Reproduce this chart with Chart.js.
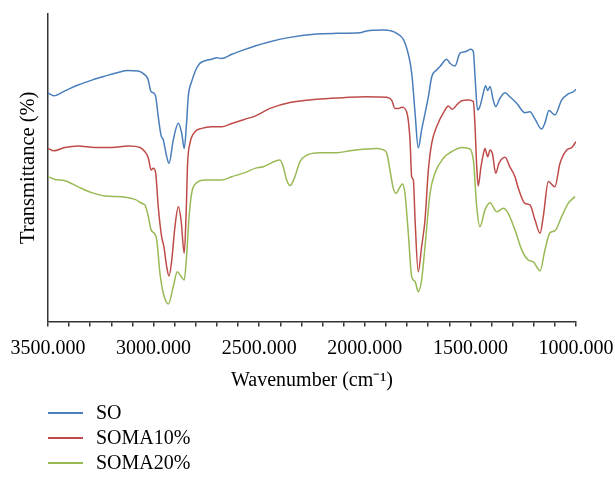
<!DOCTYPE html>
<html>
<head>
<meta charset="utf-8">
<script src="https://cdn.jsdelivr.net/npm/chart.js@4/dist/chart.umd.min.js"></script>
<style>
  body { margin: 0; background: #fff; }
  #wrap { position: relative; width: 615px; height: 479px; }
  #legend { position: absolute; left: 48px; top: 400px; font-family: "Liberation Serif", serif; font-size: 20px; color: #000; }
  .row { display: flex; align-items: center; height: 25px; }
  .swatch { width: 35px; height: 2px; margin-right: 13px; }
</style>
</head>
<body>
<div id="wrap">
  <canvas id="ftir" width="615" height="479"></canvas>
  <div id="legend"></div>
</div>
<script>
// series names and colours
const seriesNames = ['SO', 'SOMA10%', 'SOMA20%'];
const seriesColors = ['#4A7EBB', '#BE4B48', '#98B954'];

// x tick labels (cm-1)
const tickLabels = [3500, 3000, 2500, 2000, 1500, 1000];

// SO
const soWavenumber = [3500, 3472, 3420, 3358, 3292, 3230, 3169, 3121, 3074, 3041, 3027, 3012, 3001, 2990, 2978, 2965, 2954, 2938, 2927, 2907, 2883, 2867, 2855, 2843, 2836, 2820, 2788, 2757, 2725, 2701, 2678, 2630, 2567, 2520, 2449, 2354, 2228, 2133, 2023, 1991, 1912, 1881, 1849, 1810, 1778, 1762, 1747, 1731, 1699, 1683, 1660, 1644, 1612, 1597, 1573, 1549, 1526, 1497, 1486, 1478, 1466, 1455, 1439, 1428, 1418, 1407, 1392, 1380, 1360, 1336, 1313, 1281, 1242, 1218, 1194, 1163, 1147, 1128, 1100, 1068, 1037, 1013, 1000];
const soTransmittance = [74.3, 73.4, 75.0, 76.9, 78.5, 79.8, 81.0, 81.6, 81.5, 80.2, 78.9, 74.7, 74.4, 73.1, 66.6, 60.6, 59.0, 53.6, 51.4, 59.0, 64.5, 61.3, 56.3, 65.5, 73.1, 78.0, 83.4, 84.8, 85.3, 85.8, 85.5, 86.9, 88.5, 89.6, 91.0, 92.4, 93.5, 93.7, 93.9, 94.5, 94.8, 94.6, 93.7, 90.6, 80.8, 67.8, 56.4, 62.3, 73.1, 79.6, 81.8, 82.9, 85.3, 84.0, 83.1, 87.3, 87.7, 88.5, 87.7, 79.6, 68.8, 69.9, 74.2, 76.7, 75.1, 76.4, 72.0, 69.9, 72.6, 74.4, 73.1, 71.0, 67.9, 68.2, 65.8, 62.6, 64.6, 68.6, 67.2, 72.0, 74.0, 74.7, 75.5];

// SOMA10%
const soma10Wavenumber = [3500, 3472, 3420, 3357, 3278, 3198, 3120, 3064, 3041, 3025, 3012, 3001, 2990, 2978, 2962, 2951, 2938, 2927, 2914, 2899, 2883, 2870, 2855, 2845, 2839, 2828, 2804, 2772, 2725, 2678, 2630, 2567, 2520, 2449, 2354, 2228, 2102, 1991, 1896, 1873, 1857, 1841, 1825, 1802, 1786, 1778, 1770, 1762, 1747, 1731, 1715, 1699, 1683, 1660, 1620, 1605, 1586, 1565, 1541, 1510, 1486, 1478, 1470, 1463, 1450, 1434, 1431, 1418, 1407, 1396, 1380, 1365, 1336, 1313, 1289, 1273, 1242, 1218, 1194, 1170, 1155, 1131, 1100, 1076, 1044, 1020, 1000];
const soma10Transmittance = [56.3, 55.5, 56.6, 57.1, 56.6, 56.6, 57.1, 56.6, 55.2, 53.2, 49.3, 49.8, 48.2, 37.3, 27.6, 24.3, 17.8, 14.8, 20.0, 30.8, 37.3, 33.0, 22.2, 37.3, 51.4, 57.9, 61.7, 62.8, 63.3, 63.3, 64.4, 65.8, 66.8, 69.3, 71.2, 72.3, 72.8, 73.1, 72.9, 72.0, 69.3, 69.3, 69.7, 68.2, 59.1, 47.1, 46.0, 33.0, 16.2, 24.3, 33.0, 49.3, 58.0, 63.3, 68.8, 70.1, 69.0, 70.4, 71.8, 72.0, 71.5, 63.3, 50.3, 44.1, 50.3, 55.8, 56.3, 53.6, 55.8, 54.7, 48.2, 51.4, 53.4, 50.3, 47.1, 43.3, 38.4, 37.9, 33.0, 28.7, 34.1, 45.5, 43.8, 51.4, 55.8, 56.6, 58.5];

// SOMA20%
const soma20Wavenumber = [3500, 3467, 3420, 3357, 3293, 3230, 3151, 3088, 3049, 3041, 3025, 3012, 2997, 2985, 2970, 2954, 2930, 2907, 2888, 2870, 2855, 2843, 2832, 2820, 2796, 2757, 2678, 2630, 2567, 2520, 2481, 2402, 2386, 2370, 2354, 2331, 2307, 2275, 2212, 2133, 2070, 2007, 1944, 1912, 1896, 1881, 1865, 1852, 1833, 1822, 1810, 1794, 1778, 1762, 1747, 1731, 1715, 1691, 1668, 1628, 1589, 1541, 1510, 1486, 1470, 1455, 1431, 1407, 1376, 1344, 1321, 1289, 1257, 1226, 1202, 1170, 1147, 1123, 1100, 1068, 1037, 1005];
const soma20Transmittance = [47.1, 46.2, 45.8, 43.8, 41.9, 40.8, 40.6, 39.7, 38.2, 37.9, 34.1, 29.8, 28.7, 26.5, 15.7, 9.2, 5.7, 11.3, 16.2, 14.6, 13.5, 22.2, 34.1, 41.7, 45.1, 46.0, 46.0, 47.1, 48.4, 49.8, 50.3, 52.5, 50.3, 46.0, 44.2, 47.1, 52.0, 54.1, 54.9, 54.9, 55.5, 56.0, 56.3, 55.8, 54.7, 49.3, 43.3, 41.7, 43.8, 44.7, 41.7, 28.7, 14.6, 13.0, 9.7, 13.5, 24.3, 41.7, 48.2, 53.1, 55.2, 56.6, 56.3, 52.5, 37.3, 30.8, 36.3, 38.6, 35.7, 36.8, 35.2, 29.8, 23.3, 20.0, 19.4, 16.5, 23.3, 28.9, 29.5, 34.1, 38.4, 40.6];

const toPoints = (xs, ys) => xs.map((x, i) => ({ x: x, y: ys[i] }));
const allX = [soWavenumber, soma10Wavenumber, soma20Wavenumber];
const allY = [soTransmittance, soma10Transmittance, soma20Transmittance];

const serif = "'Liberation Serif', 'Times New Roman', serif";

new Chart(document.getElementById('ftir'), {
  type: 'line',
  data: {
    datasets: seriesNames.map((name, i) => ({
      label: name,
      data: toPoints(allX[i], allY[i]),
      borderColor: seriesColors[i],
      borderWidth: 1.5,
      pointRadius: 0,
      fill: false,
      cubicInterpolationMode: 'monotone'
    }))
  },
  options: {
    responsive: false,
    animation: false,
    layout: { padding: { top: 14, right: 39, bottom: 86, left: 0 } },
    plugins: { legend: { display: false }, tooltip: { enabled: false } },
    scales: {
      x: {
        type: 'linear',
        reverse: true,
        min: 1000,
        max: 3500,
        afterFit: (s) => { s.height = 71.5; },
        afterBuildTicks: (s) => {
          const t = [];
          for (let v = 1000; v <= 3500; v += 100) t.push({ value: v });
          s.ticks = t;
        },
        ticks: {
          autoSkip: false,
          maxRotation: 0,
          padding: 10,
          color: '#000',
          font: { family: serif, size: 20 },
          callback: (v) => tickLabels.includes(v) ? v.toFixed(3) : ''
        },
        grid: { drawOnChartArea: false, tickLength: 5, color: '#333', lineWidth: 1.5 },
        border: { color: '#333', width: 1.5 },
        title: {
          display: true,
          text: 'Wavenumber (cm⁻¹)',
          color: '#000',
          font: { family: serif, size: 20 },
          padding: { top: 0, bottom: 0 }
        }
      },
      y: {
        min: 0,
        max: 100,
        afterFit: (s) => { s.width = 48; },
        ticks: { display: false },
        grid: { display: false },
        border: { color: '#333', width: 1.5 },
        title: {
          display: true,
          text: 'Transmittance (%)',
          color: '#000',
          font: { family: serif, size: 20.5 },
          padding: { top: 16, bottom: 0 }
        }
      }
    }
  }
});

// legend below the chart
const legend = document.getElementById('legend');
seriesNames.forEach((name, i) => {
  legend.innerHTML += `
    <div class="row">
      <div class="swatch" style="background-color: ${seriesColors[i]}"></div>
      <span>${name}</span>
    </div>`;
});
</script>
</body>
</html>
